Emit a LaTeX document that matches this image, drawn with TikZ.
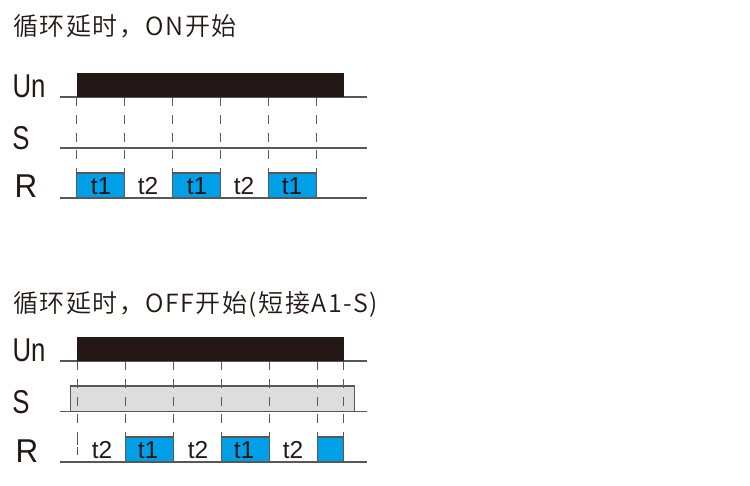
\documentclass[tikz,border=0pt]{standalone}
\usepackage{fontspec}
\setmainfont{Liberation Sans}
\newfontfamily\cjkf[LetterSpace=6,UprightFont={* DemiLight}]{Noto Sans CJK SC}
\definecolor{blk}{HTML}{231815}
\definecolor{blu}{HTML}{00A0E9}
\definecolor{lin}{HTML}{595757}
\definecolor{gry}{HTML}{DDDDDD}
\tikzset{
 base/.style={draw=lin,line width=1.3pt},
 tick/.style={draw=lin,line width=1.2pt,dash pattern=on 9pt off 8.6pt},
 pulse/.style={fill=blu,draw=lin,line width=1.2pt},
 power/.style={fill=blk,draw=none},
 lbl/.style={inner sep=0pt,anchor=center,text=blk},
 ttl/.style={inner sep=0pt,anchor=west,text=blk},
 sig/.style={inner sep=0pt,anchor=center,text=blk},
}
\newcommand{\sigtxt}[1]{\scalebox{0.78}[1]{\fontsize{33}{33}\selectfont #1}}
\newcommand{\ttxt}[1]{\fontsize{24.5}{25}\selectfont #1}
\begin{document}
\begin{tikzpicture}[x=1pt,y=-1pt]
\useasboundingbox (0,0) rectangle (750,486);
\node[ttl] (title1) at (13,26) {\cjkf\fontsize{25}{26}\selectfont 循环延时，ON开始};
\node[ttl] (title2) at (13,304) {\cjkf\fontsize{25}{26}\selectfont 循环延时，OFF开始(短接A1-S)};
% top
\draw[base] (60,97) -- (367,97);
\draw[base] (60,148) -- (367,148);
\draw[base] (60,198) -- (367,198);
\fill[power] (77,73) rectangle (343.5,97.3);
\foreach \x in {76.7,172.7,268.7}{\draw[pulse] (\x,173) rectangle (\x+48,198);}
\foreach \x in {76.7,124.7,172.7,220.7,268.7,316.7}{\draw[tick] (\x,97.5) -- (\x,173);}
\node[sig] (un1) at (29,86) {\sigtxt{Un}};
\node[sig] (s1) at (21,138) {\sigtxt{S}};
\node[sig] (r1) at (26,186) {\scalebox{0.95}[1]{\fontsize{33}{33}\selectfont R}};
\node[lbl] (a1) at (101,186) {\ttxt{t1}};
\node[lbl] (a2) at (148,186) {\ttxt{t2}};
\node[lbl] (a3) at (197,186) {\ttxt{t1}};
\node[lbl] (a4) at (244,186) {\ttxt{t2}};
\node[lbl] (a5) at (292,186) {\ttxt{t1}};
% bottom
\draw[base] (60,361) -- (367,361);
\draw[base] (60,411.5) -- (367,411.5);
\draw[base] (60,462) -- (367,462);
\fill[power] (77.3,337) rectangle (343.8,361.3);
\draw[fill=gry,draw=lin,line width=1.2pt] (70.5,386) rectangle (354.5,411.5);
\foreach \x/\w in {125.3/48,221.3/48,317.3/26.5}{\draw[pulse] (\x,437) rectangle (\x+\w,462);}
\foreach \x in {77.3,125.3,173.3,221.3,269.3,317.3,343.8}{\draw[tick] (\x,361.5) -- (\x,437);}
\draw[draw=lin,line width=1.2pt,dash pattern=on 8pt off 2pt] (77.3,437) -- (77.3,455);
\node[sig] (un2) at (29,350) {\sigtxt{Un}};
\node[sig] (s2) at (21,402) {\sigtxt{S}};
\node[sig] (r2) at (27,451) {\scalebox{0.95}[1]{\fontsize{33}{33}\selectfont R}};
\node[lbl] (b1) at (102,450) {\ttxt{t2}};
\node[lbl] (b2) at (148,450) {\ttxt{t1}};
\node[lbl] (b3) at (198,450) {\ttxt{t2}};
\node[lbl] (b4) at (244,450) {\ttxt{t1}};
\node[lbl] (b5) at (293,450) {\ttxt{t2}};
\end{tikzpicture}
\end{document}
